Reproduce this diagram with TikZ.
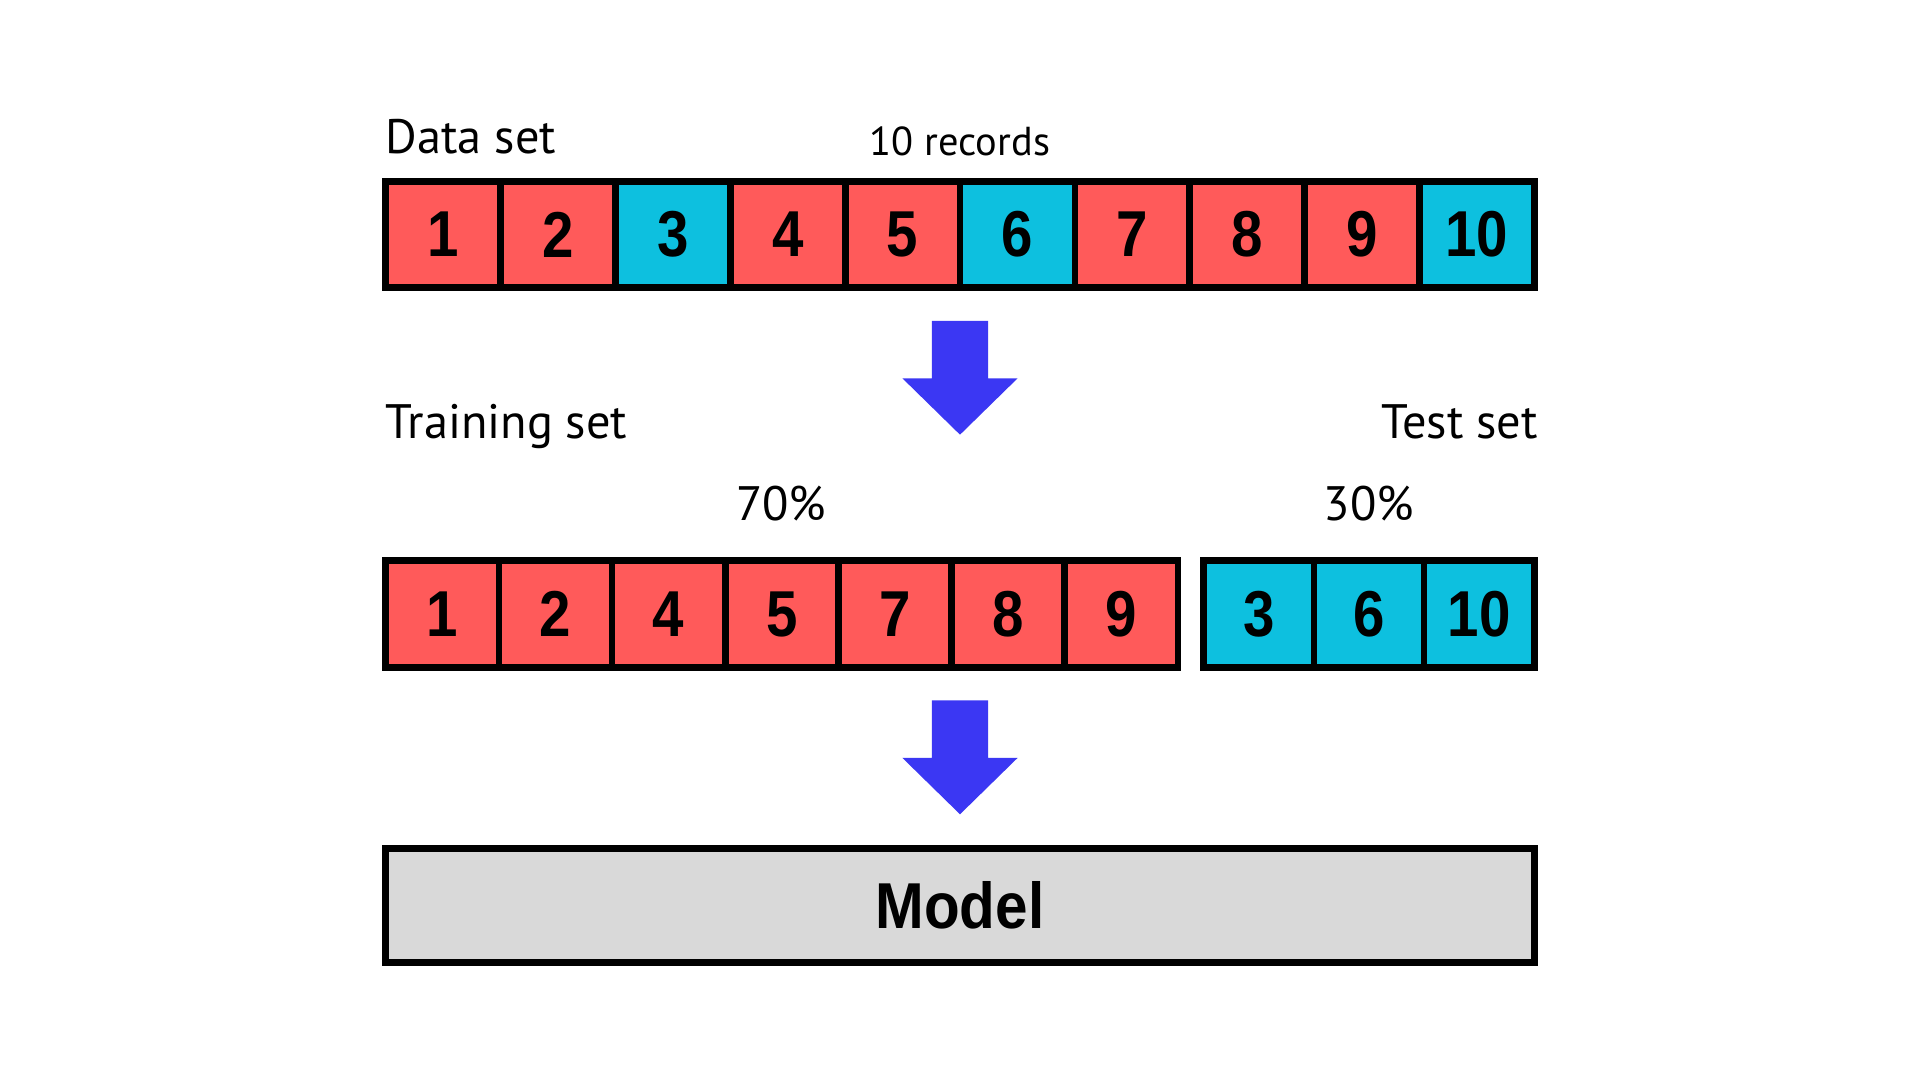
\documentclass[tikz,border=0pt]{standalone}
\usepackage{fontspec}
\usepackage{graphicx}
\setmainfont{PT Sans}
\newfontfamily\numfont{Liberation Sans}
\definecolor{cred}{HTML}{FF5A5A}
\definecolor{ccyan}{HTML}{0DC0DF}
\definecolor{cblue}{HTML}{3B37F3}
\definecolor{cgray}{HTML}{D9D9D9}
\tikzset{
  cellbox/.style={draw=black, line width=5.5pt, inner sep=0pt, outer sep=0pt, minimum height=87pt,
    font=\fontsize{53}{53}\numfont\bfseries},
  redcell/.style={cellbox, fill=cred},
  cyancell/.style={cellbox, fill=ccyan},
  labeltext/.style={inner sep=0pt, font=\fontsize{39.5}{42}\selectfont},
  smalltext/.style={inner sep=0pt, font=\fontsize{33}{36}\selectfont},
  bigarrow/.style={fill=cblue, draw=none},
}
\newcommand{\nb}[1]{\scalebox{0.87}[1]{#1}}
\begin{document}
\begin{tikzpicture}[x=1pt, y=-1pt]
\useasboundingbox (0,0) rectangle (1568,882);
% labels
\node[labeltext, anchor=base west] (dslabel) at (315,125) {Data set};
\node[smalltext, anchor=base] (reclabel) at (784,127) {10 records};
% top row
\foreach \n/\c [count=\i] in {1/redcell,2/redcell,3/cyancell,4/redcell,5/redcell,6/cyancell,7/redcell,8/redcell,9/redcell,10/cyancell}{
  \node[\c, minimum width=93.8pt] (d\i) at ({315+93.8*(\i-0.5)},191.5) {\nb{\n}};
}
% arrow 1
\coordinate (a1top) at (784,262);
\coordinate (a1tip) at (784,355);
\fill[bigarrow] ([xshift=-23pt]a1top) -- ([xshift=23pt]a1top) -- ([xshift=23pt]a1top |- 0,309) -- (831,309) -- (a1tip) -- (737,309) -- ([xshift=-23pt]a1top |- 0,309) -- cycle;
% middle labels
\node[labeltext, anchor=base west] (trlabel) at (315,358) {Training set};
\node[labeltext, anchor=base east] (tslabel) at (1256,358) {Test set};
\node[labeltext, anchor=base] (p70) at (638,425) {70\%};
\node[labeltext, anchor=base] (p30) at (1118,425) {30\%};
% training row
\foreach \n [count=\i] in {1,2,4,5,7,8,9}{
  \node[redcell, minimum width=92.43pt] (r\i) at ({315+92.43*(\i-0.5)},501.5) {\nb{\n}};
}
% test row
\foreach \n [count=\i] in {3,6,10}{
  \node[cyancell, minimum width=90pt] (s\i) at ({983+90*(\i-0.5)},501.5) {\nb{\n}};
}
% arrow 2
\coordinate (a2top) at (784,572);
\coordinate (a2tip) at (784,665);
\fill[bigarrow] ([xshift=-23pt]a2top) -- ([xshift=23pt]a2top) -- ([xshift=23pt]a2top |- 0,619) -- (831,619) -- (a2tip) -- (737,619) -- ([xshift=-23pt]a2top |- 0,619) -- cycle;
% model
\node[draw=black, line width=5.5pt, fill=cgray, minimum width=938pt, minimum height=93pt, inner sep=0pt,
  font=\fontsize{53}{53}\numfont\bfseries] (model) at (784,739.5) {\scalebox{0.9}[1]{Model}};
\end{tikzpicture}
\end{document}
